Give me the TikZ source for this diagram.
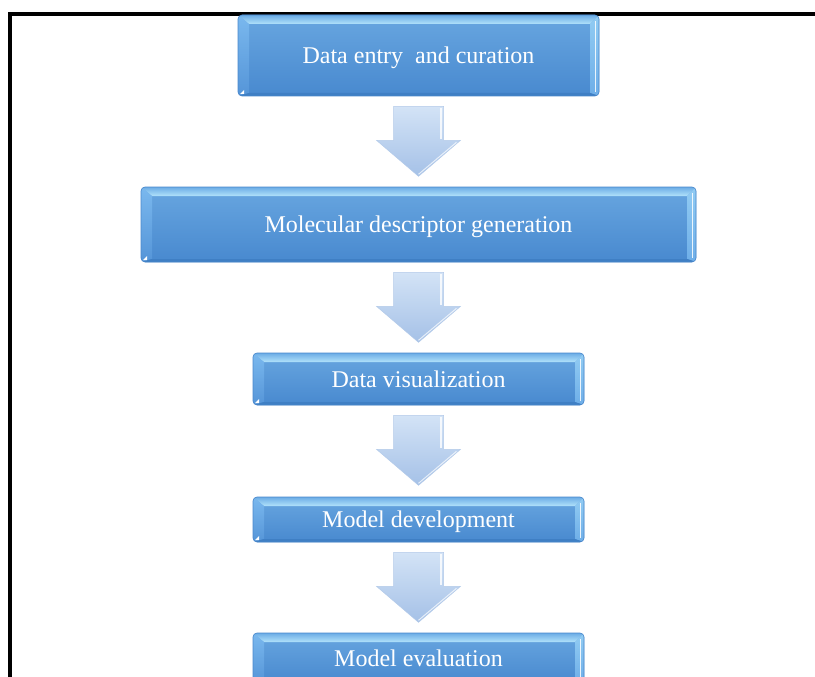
\documentclass[tikz,border=0pt]{standalone}
\usepackage{fontspec}
\setmainfont{Liberation Serif}
\usetikzlibrary{calc}
\definecolor{faceTop}{HTML}{68A6E0}
\definecolor{faceBot}{HTML}{4889CF}
\definecolor{edgeCol}{HTML}{4A88CC}
\definecolor{bevTopA}{HTML}{6BACE6}
\definecolor{bevTopB}{HTML}{B2E2FA}
\definecolor{bevLeftA}{HTML}{7AB8EE}
\definecolor{bevLeftB}{HTML}{5595D8}
\definecolor{bevRightA}{HTML}{92CCF3}
\definecolor{bevRightB}{HTML}{6EAEE8}
\definecolor{bevBot}{HTML}{3F7FC4}
\definecolor{arrTop}{HTML}{D3E3F6}
\definecolor{arrBot}{HTML}{A5C1E7}
\definecolor{arrEdge}{HTML}{B3CAE9}
\tikzset{
  bevbox/.style={
    rounded corners=4pt, inner sep=0pt, text=white,
    font=\fontsize{24}{28}\selectfont,
    text height=19pt, text depth=3pt,
    top color=faceTop, bottom color=faceBot, draw=edgeCol, line width=0.6pt,
    path picture={
      \coordinate (NW) at (path picture bounding box.north west);
      \coordinate (NE) at (path picture bounding box.north east);
      \coordinate (SW) at (path picture bounding box.south west);
      \coordinate (SE) at (path picture bounding box.south east);
      \shade[sharp corners, top color=bevTopA, bottom color=bevTopB]
        (NW) -- (NE) -- ($(NE)+(-9pt,-9pt)$) -- ($(NW)+(11pt,-9pt)$) -- cycle;
      \shade[sharp corners, top color=bevLeftA, bottom color=bevLeftB]
        (NW) -- ($(NW)+(11pt,-9pt)$) -- ($(SW)+(11pt,3pt)$) -- (SW) -- cycle;
      \shade[sharp corners, top color=bevRightA, bottom color=bevRightB]
        (NE) -- ($(NE)+(-9pt,-9pt)$) -- ($(SE)+(-9pt,3pt)$) -- (SE) -- cycle;
      \draw[sharp corners, white, line width=1.6pt, opacity=0.85]
        ($(NE)+(-3.5pt,-6pt)$) -- ($(SE)+(-3.5pt,4pt)$);
      \fill[sharp corners, bevBot]
        (SW) -- (SE) -- ($(SE)+(-9pt,3pt)$) -- ($(SW)+(11pt,3pt)$) -- cycle;
      \fill[sharp corners, white] ($(SW)+(2pt,2pt)$) -- ++(4pt,0) -- ++(0,4pt) -- cycle;
    }
  },
  blockarrow/.style={top color=arrTop, bottom color=arrBot, draw=arrEdge, line width=0.5pt}
}
\newcommand{\flowarrow}[2]{%
  \coordinate (#2) at ($(#1.south)+(0,-10pt)$);
  \path[blockarrow] ($(#2)+(-25pt,0)$) -- ++(50pt,0) -- ++(0,-34pt) -- ++(17pt,0)
     -- ++(-42pt,-36pt) -- ++(-42pt,36pt) -- ++(17pt,0) -- cycle;
  \draw[white, line width=2pt, opacity=0.8] ($(#2)+(22pt,-2pt)$) -- ($(#2)+(22pt,-33pt)$);
  \draw[white, line width=1pt, opacity=0.7] ($(#2)+(38pt,-36pt)$) -- ($(#2)+(0,-68pt)$);
}
\begin{document}
\begin{tikzpicture}[x=1pt,y=-1pt]
\useasboundingbox (0,0) rectangle (815,677);
\fill[white] (0,0) rectangle (815,677);
\begin{scope}
\clip (0,0) rectangle (815,677);
\draw[line width=4pt] (10,700) -- (10,14) -- (830,14);
\node[bevbox, minimum width=361pt, minimum height=81pt] (b1) at (418.5,55.5) {Data entry\ \ and curation};
\node[bevbox, minimum width=555pt, minimum height=75pt] (b2) at (418.5,224.5) {Molecular descriptor generation};
\node[bevbox, minimum width=331pt, minimum height=52pt] (b3) at (418.5,379) {Data visualization};
\node[bevbox, minimum width=331pt, minimum height=45pt] (b4) at (418.5,519.5) {Model development};
\node[bevbox, minimum width=331pt, minimum height=50pt] (b5) at (418.5,658) {Model evaluation};
\flowarrow{b1}{a1}
\flowarrow{b2}{a2}
\flowarrow{b3}{a3}
\flowarrow{b4}{a4}
\end{scope}
\end{tikzpicture}
\end{document}
